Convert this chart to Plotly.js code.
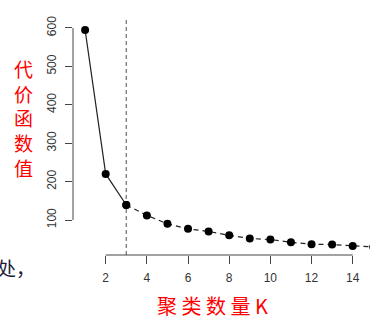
<!DOCTYPE html>
<html>
<head>
<meta charset="utf-8">
<script src="https://cdn.plot.ly/plotly-3.0.1.min.js"></script>
<style>html,body{margin:0;padding:0;background:#fff;}</style>
</head>
<body>
<div id="chart" style="width:370px;height:322px;"></div>
<script>
// Data
var kValues = [1, 2, 3, 4, 5, 6, 7, 8, 9, 10, 11, 12, 13, 14, 15];
var costValues = [595, 220, 139, 112, 90, 77, 70, 60, 52, 49, 42, 37, 36, 32, 30];
var xTickVals = [2, 4, 6, 8, 10, 12, 14];
var xTickText = ['2', '4', '6', '8', '10', '12', '14'];
var yTickVals = [100, 200, 300, 400, 500, 600];
var yTickText = ['100', '200', '300', '400', '500', '600'];
var elbowK = 3;
var yTitle = '代<br>价<br>函<br>数<br>值';
var xTitle = '聚 类 数 量 K';
var strayText = '处，';

var elbowIdx = kValues.indexOf(elbowK);

var solidPart = {
  x: kValues.slice(0, elbowIdx + 1),
  y: costValues.slice(0, elbowIdx + 1),
  mode: 'lines+markers',
  type: 'scatter',
  line: {color: '#222', width: 1.2},
  marker: {color: '#000', size: 8},
  hoverinfo: 'none'
};
var dashedPart = {
  x: kValues.slice(elbowIdx),
  y: costValues.slice(elbowIdx),
  mode: 'lines+markers',
  type: 'scatter',
  line: {color: '#222', width: 1.2, dash: '5px,4px'},
  marker: {color: '#000', size: 8},
  hoverinfo: 'none'
};

var tickFont = {family: 'Liberation Sans, Arial, sans-serif', size: 12, color: '#333'};

var layout = {
  width: 370, height: 322,
  margin: {l: 73, r: 0, t: 20, b: 67},
  paper_bgcolor: '#fff', plot_bgcolor: '#fff',
  showlegend: false,
  xaxis: {
    range: [0.412, 14.84],
    tickvals: xTickVals, ticktext: xTickText,
    ticks: 'outside', ticklen: 8, tickcolor: '#444', tickwidth: 1,
    showgrid: false, zeroline: false, showline: false,
    tickfont: tickFont, ticklabelstandoff: 4
  },
  yaxis: {
    range: [8.85, 620.8],
    tickvals: yTickVals, ticktext: yTickText,
    ticks: 'outside', ticklen: 7, tickcolor: '#444', tickwidth: 1,
    showgrid: false, zeroline: false, showline: false,
    tickangle: -90,
    tickfont: tickFont, ticklabelstandoff: 4
  },
  shapes: [
    {type: 'line', xref: 'paper', yref: 'y', x0: 0, x1: 0, y0: yTickVals[0], y1: yTickVals[yTickVals.length - 1],
     line: {color: '#444', width: 1}},
    {type: 'line', xref: 'x', yref: 'paper', x0: xTickVals[0], x1: xTickVals[xTickVals.length - 1], y0: 0, y1: 0,
     line: {color: '#444', width: 1}},
    {type: 'line', xref: 'x', yref: 'paper', x0: elbowK, x1: elbowK, y0: 0, y1: 1,
     line: {color: '#777', width: 1.3, dash: '4px,3px'}, layer: 'below'}
  ],
  annotations: [
    {text: yTitle, xref: 'paper', yref: 'paper', x: -0.167, y: 0.581, xanchor: 'center', yanchor: 'middle',
     showarrow: false, font: {family: 'Noto Sans CJK SC, sans-serif', size: 19, color: '#ff0000'}},
    {text: xTitle, xref: 'paper', yref: 'paper', x: 0.47, y: -0.216, xanchor: 'center', yanchor: 'middle',
     showarrow: false, font: {family: 'Noto Sans CJK SC, sans-serif', size: 20, color: '#ff0000'}},
    {text: strayText, xref: 'paper', yref: 'paper', x: -0.263, y: -0.055, xanchor: 'left', yanchor: 'middle',
     showarrow: false, font: {family: 'Noto Sans CJK SC, sans-serif', size: 19, color: '#1c1c3a'}}
  ]
};

Plotly.newPlot('chart', [solidPart, dashedPart], layout, {displayModeBar: false, staticPlot: true});
</script>
</body>
</html>
